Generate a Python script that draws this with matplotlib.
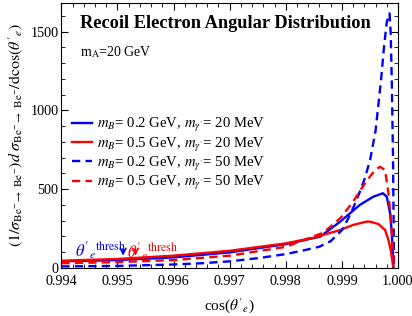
import numpy as np
import matplotlib
matplotlib.use("Agg")
import matplotlib.pyplot as plt
import matplotlib.transforms as mtransforms
from matplotlib.ticker import MultipleLocator

plt.rcParams['font.family'] = ['Liberation Serif', 'DejaVu Serif']
plt.rcParams['mathtext.fontset'] = 'stix'

# mB = 0.2 GeV, m_gamma' = 20 MeV (blue solid)
x_b20 = [0.9940, 0.9950, 0.9960, 0.9970, 0.9980, 0.9985, 0.99861, 0.99897, 0.99932,
         0.99956, 0.99973, 0.99980, 0.99986, 0.99989, 0.99992]
y_b20 = [42, 50, 67, 99, 151, 190, 198, 294, 400, 452, 474, 452, 347, 220, 0]

# mB = 0.5 GeV, m_gamma' = 20 MeV (red solid)
x_r20 = [0.9940, 0.9950, 0.9960, 0.9970, 0.9980, 0.9985, 0.99897, 0.99920, 0.99944,
         0.99950, 0.99965, 0.99977, 0.99983, 0.99987, 0.99991, 0.99992]
y_r20 = [46, 57, 78, 109, 156, 192, 241, 273, 294, 294, 279, 241, 178, 114, 19, 0]

# mB = 0.2 GeV, m_gamma' = 50 MeV (blue dashed)
x_b50 = [0.9940, 0.9950, 0.9960, 0.9965, 0.9970, 0.9975, 0.9980, 0.9983, 0.9986, 0.9988,
         0.9990, 0.9991, 0.9992, 0.9993, 0.9994, 0.9995, 0.9996, 0.9997, 0.99975, 0.9998,
         0.99985, 0.99987, 0.99989, 0.99991, 0.99993]
y_b50 = [10, 13, 22, 30, 42, 62, 88, 110, 135, 170, 240, 305, 380, 465, 560, 680, 870,
         1200, 1400, 1560, 1615, 1490, 1170, 730, 0]

# mB = 0.5 GeV, m_gamma' = 50 MeV (red dashed)
x_r50 = [0.9940, 0.9950, 0.9960, 0.9970, 0.9980, 0.99867, 0.99897, 0.99920, 0.99941,
         0.99959, 0.99968, 0.99977, 0.99983, 0.99987, 0.99991, 0.99993]
y_r50 = [30, 37, 50, 78, 134, 224, 315, 420, 537, 621, 642, 621, 474, 325, 114, 0]

thresh_b = 0.99510
thresh_r = 0.99532

fig = plt.figure(figsize=(4.12, 3.16), dpi=100)
ax = fig.add_axes([0.149, 0.152, 0.817, 0.838])

lw = 1.7
dash = (0, (3.5, 2.2))
ax.plot(x_b20, y_b20, color='blue', lw=lw, label=r"$m_B$= 0.2 GeV, $m_{\gamma'}$= 20 MeV")
ax.plot(x_r20, y_r20, color='red', lw=lw, label=r"$m_B$= 0.5 GeV, $m_{\gamma'}$= 20 MeV")
ax.plot(x_b50, y_b50, color='blue', lw=lw, ls=dash, label=r"$m_B$= 0.2 GeV, $m_{\gamma'}$= 50 MeV")
ax.plot(x_r50, y_r50, color='red', lw=lw, ls=dash, label=r"$m_B$= 0.5 GeV, $m_{\gamma'}$= 50 MeV")

# threshold arrows
ax.annotate("", xy=(thresh_b, 60), xytext=(thresh_b, 140),
            arrowprops=dict(arrowstyle='->', color='blue', lw=1.2))
ax.annotate("", xy=(thresh_r, 60), xytext=(thresh_r, 140),
            arrowprops=dict(arrowstyle='->', color='red', lw=1.2))
ax.text(0.99469, 115, r"$\theta'_{e}{}^{\rm thresh}$", color='blue', fontsize=12, ha='center', va='center')
ax.text(0.99563, 105, r"$\theta'_{e}{}^{\rm thresh}$", color='red', fontsize=12, ha='center', va='center')

ax.text(0.055, 0.925, "Recoil Electron Angular Distribution", transform=ax.transAxes,
        fontsize=13.2, fontweight='bold', ha='left', va='center')
ax.text(0.055, 0.815, r"m$_{\rm A}$=20 GeV", transform=ax.transAxes, fontsize=10,
        ha='left', va='center')

ax.legend(loc='center left', bbox_to_anchor=(0.0, 0.43), frameon=False, fontsize=10.6,
          handlelength=1.35, handletextpad=0.35, labelspacing=0.08, borderaxespad=0.3)

ax.set_xlim(0.994, 1.000)
ax.set_ylim(0, 1680)
ax.xaxis.set_major_locator(MultipleLocator(0.001))
ax.xaxis.set_minor_locator(MultipleLocator(0.0002))
ax.yaxis.set_major_locator(MultipleLocator(500))
ax.yaxis.set_minor_locator(MultipleLocator(100))
ax.set_xticklabels([f"{v:.3f}" for v in ax.get_xticks()])
ax.tick_params(which='both', direction='in', top=True, right=True, labelsize=10.2)
ax.tick_params(axis='y', pad=2)
ax.tick_params(axis='x', pad=5)
ax.tick_params(which='major', length=5)
ax.tick_params(which='minor', length=3)

# nudge the last x label so it stays inside the figure
last = ax.get_xticklabels()[-1]
last.set_transform(last.get_transform() + mtransforms.ScaledTranslation(-3 / 100, 0, fig.dpi_scale_trans))

ax.set_xlabel(r"cos($\theta'_e$)", fontsize=11, labelpad=6)
ax.set_ylabel(r"$(1/\sigma_{\rm Be^{-}\to\ Be^{-}})d\ \sigma_{\rm Be^{-}\to\ Be^{-}}/{\rm dcos}(\theta'_e)$",
              fontsize=11.5, labelpad=4)

fig.savefig("out.png", dpi=100)
